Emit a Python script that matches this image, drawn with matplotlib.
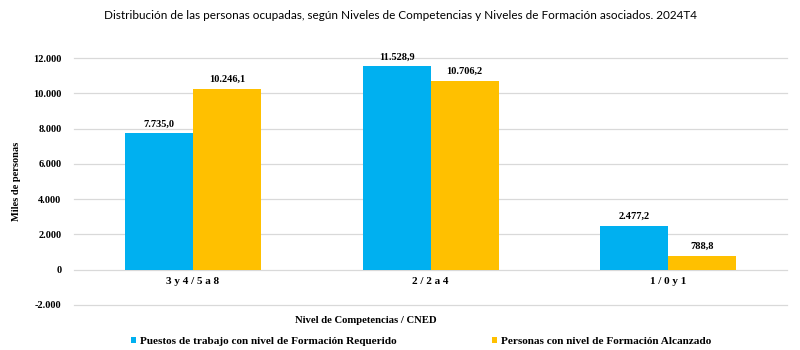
import matplotlib
matplotlib.use("Agg")
import matplotlib.pyplot as plt
from matplotlib.ticker import FuncFormatter
import numpy as np

categories = ["3 y 4 / 5 a 8", "2 / 2 a 4", "1 / 0 y 1"]
requerido = [7735.0, 11528.9, 2477.2]
alcanzado = [10246.1, 10706.2, 788.8]
series_names = ["Puestos de trabajo con nivel de Formación Requerido",
                "Personas con nivel de Formación Alcanzado"]
title = "Distribución de las personas ocupadas, según Niveles de Competencias y Niveles de Formación asociados. 2024T4"

BLUE = "#00B0F0"
YELLOW = "#FFC000"
GRID = "#d9d9d9"
serif = ["Liberation Serif", "DejaVu Serif"]
sans = ["Lato", "DejaVu Sans"]


def es_num(v, dec=0):
    s = f"{v:,.{dec}f}"
    return s.replace(",", "X").replace(".", ",").replace("X", ".")


fig = plt.figure(figsize=(8, 3.5), dpi=100)
ax = fig.add_axes([0.0925, 0.1286, 0.8915, 0.7054])

x = np.arange(len(categories))
w = 0.286
b1 = ax.bar(x - w / 2, requerido, w, color=BLUE, label=series_names[0], zorder=3)
b2 = ax.bar(x + w / 2, alcanzado, w, color=YELLOW, label=series_names[1], zorder=3)

for bars, vals in ((b1, requerido), (b2, alcanzado)):
    for r, v in zip(bars, vals):
        ax.text(r.get_x() + r.get_width() / 2, v + 280, es_num(v, 1),
                ha="center", va="bottom", fontsize=7.5, fontweight="bold",
                family=serif)

ax.set_xlim(-0.5, len(categories) - 0.5)
ax.set_ylim(-2000, 12000)
yt = np.arange(-2000, 12001, 2000)
ax.set_yticks(yt)
ax.yaxis.set_major_formatter(FuncFormatter(lambda v, p: es_num(v)))
for yv in yt:
    ax.axhline(yv, color=GRID, linewidth=0.9, zorder=0, clip_on=False)
for s in ax.spines.values():
    s.set_visible(False)
ax.tick_params(axis="both", length=0)
ax.set_xticks([])
for lbl in ax.get_yticklabels():
    lbl.set_fontfamily(serif)
    lbl.set_fontweight("bold")
    lbl.set_fontsize(7.5)
ax.tick_params(axis="y", pad=9)

# category labels sit just under the zero line
for xi, c in zip(x, categories):
    ax.text(xi, -420, c, ha="center", va="top", fontsize=8, fontweight="bold",
            family=serif)

ax.set_ylabel("Miles de personas", family=serif, fontweight="bold", fontsize=7.5,
              labelpad=9)

fig.text(0.457, 0.085, "Nivel de Competencias / CNED", ha="center", va="center",
         family=serif, fontweight="bold", fontsize=7.7)
fig.text(0.5, 0.955, title, ha="center", va="center", family=sans, fontsize=8.5)

fig.legend(loc="center", bbox_to_anchor=(0.526, 0.025), ncol=2, frameon=False,
           prop={"family": serif, "weight": "bold", "size": 8.1},
           handlelength=0.45, handleheight=0.45, handletextpad=0.35,
           columnspacing=8.5)

fig.savefig("out.png", dpi=100)
